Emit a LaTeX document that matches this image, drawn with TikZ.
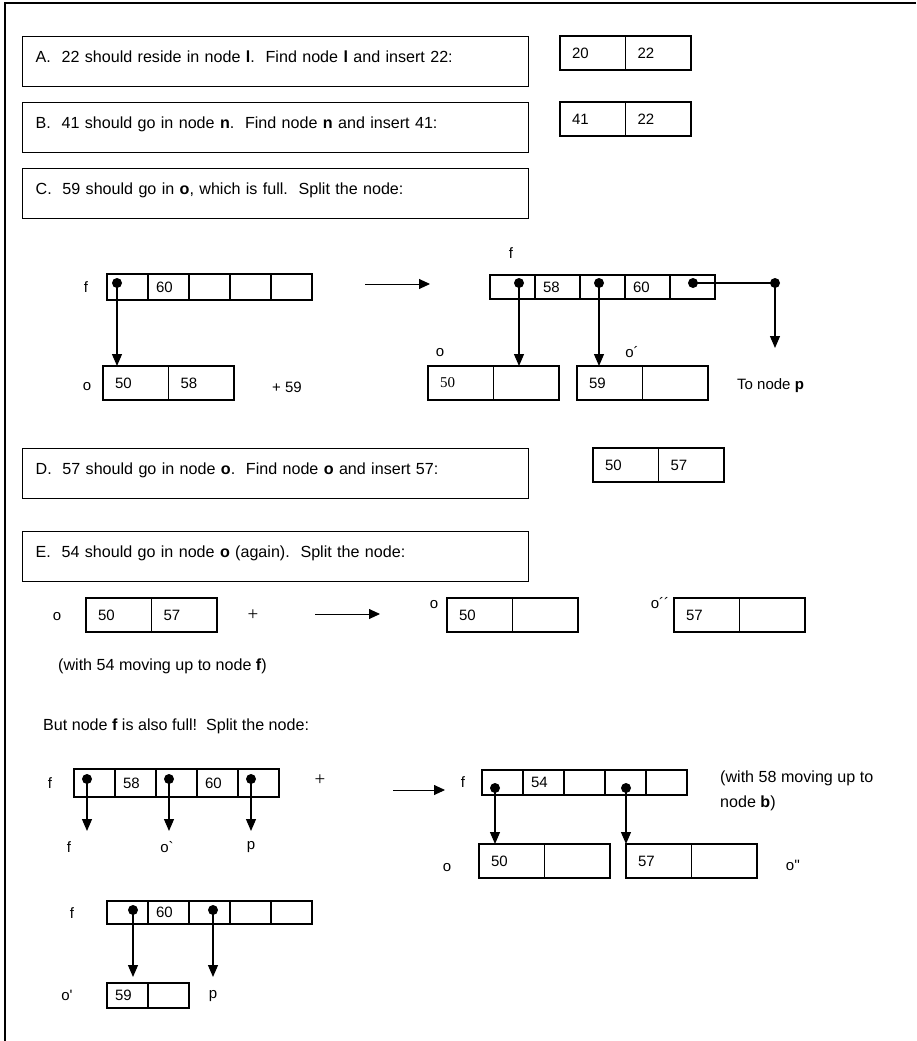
\documentclass[tikz,border=0pt]{standalone}
\usepackage{fontspec}
\setmainfont{Liberation Sans}
\newfontfamily\serifnum{Liberation Serif}
\usepackage{tikz}
\usetikzlibrary{arrows.meta,positioning}
\newcommand\bigtxt{\fontsize{16.1}{25}\selectfont}
\newcommand\celltxt{\fontsize{15}{18}\selectfont}
\frenchspacing

\begin{document}
\begin{tikzpicture}[x=1pt, y=-1pt,
    stepbox/.style={draw, line width=1.3pt, anchor=north west, minimum height=50pt,
      text width=480pt, inner xsep=13pt, align=left, font=\bigtxt, text depth=9pt},
    cell/.style={draw, line width=1.3pt, outer sep=0pt, align=left, font=\celltxt,
      inner xsep=12pt, text width=41.5pt, minimum height=34pt},
    small/.style={inner xsep=8pt, text width=25pt, minimum height=#1},
    small/.default=26pt,
    lbl/.style={font=\celltxt, inner sep=0pt},
    plus/.style={font=\serifnum\fontsize{19}{20}\selectfont, inner sep=0pt},
    note/.style={font=\bigtxt, inner sep=0pt, anchor=west, align=left},
    dot/.style={circle, fill, inner sep=0pt, minimum size=10pt},
    ptr/.style={-{Triangle[length=12pt, width=10pt]}, line width=1.2pt},
    goes/.style={-{Triangle[length=11pt, width=10pt]}, line width=0.9pt},
  ]
    \useasboundingbox (0,0) rectangle (916,1041);
    \draw[line width=2.5pt] (5,1041) -- (5,3) -- (916,3);

    % step A and B
    \node[stepbox] (stepA) at (22,36) {A.\ \ 22 should reside in node \textbf{l}.\ \ Find node \textbf{l} and insert 22:};
    \node[cell, anchor=north west] (a1) at (560,36) {20};
    \node[cell, right=0pt of a1] (a2) {22};
    \node[stepbox] (stepB) at (22,102) {B.\ \ 41 should go in node \textbf{n}.\ \ Find node \textbf{n} and insert 41:};
    \node[cell, anchor=north west] (b1) at (560,102) {41};
    \node[cell, right=0pt of b1] (b2) {22};

    % step C, before the split
    \node[stepbox] (stepC) at (22,168) {C.\ \ 59 should go in \textbf{o}, which is full.\ \ Split the node:};
    \node[lbl] (fC) at (86,287) {f};
    \node[cell, small, anchor=north west] (c1) at (107,274) {};
    \node[cell, small, right=0pt of c1] (c2) {60};
    \node[cell, small, right=0pt of c2] (c3) {};
    \node[cell, small, right=0pt of c3] (c4) {};
    \node[cell, small, right=0pt of c4] (c5) {};
    \node[dot] (dC) at (117,283) {};
    \node[lbl] (oC) at (87,387) {o};
    \node[cell, anchor=north west] (co1) at (103,366) {50};
    \node[cell, right=0pt of co1] (co2) {58};
    \node[lbl, anchor=west] (plusC) at (272,387) {+ 59};
    \draw[ptr] (dC.center) -- (dC.center |- co1.north);

    \coordinate (gC1) at (365,284);
    \coordinate (gC2) at (430,284);
    \draw[goes] (gC1) -- (gC2);

    % step C, after the split
    \node[lbl] (fR) at (511,253) {f};
    \node[cell, small=24pt, text width=29pt, anchor=north west] (r1) at (490,275) {};
    \node[cell, small=24pt, text width=29pt, right=0pt of r1] (r2) {58};
    \node[cell, small=24pt, text width=29pt, right=0pt of r2] (r3) {};
    \node[cell, small=24pt, text width=29pt, right=0pt of r3] (r4) {60};
    \node[cell, small=24pt, text width=29pt, right=0pt of r4] (r5) {};
    \node[dot] (dR1) at (519,283) {};
    \node[dot] (dR2) at (599,283) {};
    \node[dot] (dR3) at (693,283) {};
    \node[dot] (dR4) at (775,283) {};
    \node[lbl] (oR) at (440,353) {o};
    \node[cell, anchor=north west] (ro1) at (428,366) {\serifnum 50};
    \node[cell, right=0pt of ro1] (ro2) {};
    \node[lbl] (oR2) at (632,352) {o´};
    \node[cell, anchor=north west] (rq1) at (577,366) {59};
    \node[cell, right=0pt of rq1] (rq2) {};
    \coordinate (toP) at (775,348);
    \node[lbl, anchor=west] (toPtxt) at (737,386) {To node \textbf{p}};
    \draw[ptr] (dR1.center) -- (dR1.center |- ro1.north);
    \draw[ptr] (dR2.center) -- (dR2.center |- rq1.north);
    \draw[line width=1.2pt] (dR3.center) -- (dR4.center);
    \draw[ptr] (dR4.center) -- (toP);

    % step D
    \node[stepbox] (stepD) at (22,448) {D.\ \ 57 should go in node \textbf{o}.\ \ Find node \textbf{o} and insert 57:};
    \node[cell, anchor=north west] (d1) at (593,448) {50};
    \node[cell, right=0pt of d1] (d2) {57};

    % step E
    \node[stepbox] (stepE) at (22,531) {E.\ \ 54 should go in node \textbf{o} (again).\ \ Split the node:};
    \node[lbl] (oE) at (57,617) {o};
    \node[cell, anchor=north west] (e1) at (86,598) {50};
    \node[cell, right=0pt of e1] (e2) {57};
    \node[plus] (plusE) at (253,615) {+};
    \coordinate (gE1) at (315,614);
    \coordinate (gE2) at (380,614);
    \draw[goes] (gE1) -- (gE2);
    \node[lbl] (oE2) at (434,605) {o};
    \node[cell, anchor=north west] (e3) at (447,598) {50};
    \node[cell, right=0pt of e3] (e4) {};
    \node[lbl] (oE3) at (660,603) {o´´};
    \node[cell, anchor=north west] (e5) at (674,598) {57};
    \node[cell, right=0pt of e5] (e6) {};
    \node[note] (up54) at (58,666) {(with 54 moving up to node \textbf{f})};

    % node f is full too
    \node[note] (fullF) at (43,726) {But node \textbf{f} is also full!\ \ Split the node:};
    \node[lbl] (fS) at (50,783) {f};
    \node[cell, small=28pt, anchor=north west] (s1) at (74,769) {};
    \node[cell, small=28pt, right=0pt of s1] (s2) {58};
    \node[cell, small=28pt, right=0pt of s2] (s3) {};
    \node[cell, small=28pt, right=0pt of s3] (s4) {60};
    \node[cell, small=28pt, right=0pt of s4] (s5) {};
    \node[dot] (dS1) at (87,779) {};
    \node[dot] (dS2) at (169,779) {};
    \node[dot] (dS3) at (251,779) {};
    \coordinate (tS1) at (87,831);
    \coordinate (tS2) at (169,831);
    \coordinate (tS3) at (251,831);
    \draw[ptr] (dS1.center) -- (tS1);
    \draw[ptr] (dS2.center) -- (tS2);
    \draw[ptr] (dS3.center) -- (tS3);
    \node[lbl] (lS1) at (69,847) {f};
    \node[lbl] (lS2) at (167,847) {o\textasciigrave};
    \node[lbl] (lS3) at (251,847) {p};
    \node[plus] (plusS) at (320,780) {+};
    \coordinate (gS1) at (393,790);
    \coordinate (gS2) at (445,790);
    \draw[goes] (gS1) -- (gS2);

    \node[lbl] (fT) at (463,782) {f};
    \node[cell, small=25pt, anchor=north west] (t1) at (482,770) {};
    \node[cell, small=25pt, right=0pt of t1] (t2) {54};
    \node[cell, small=25pt, right=0pt of t2] (t3) {};
    \node[cell, small=25pt, right=0pt of t3] (t4) {};
    \node[cell, small=25pt, right=0pt of t4] (t5) {};
    \node[dot] (dT1) at (495,788) {};
    \node[dot] (dT2) at (626,788) {};
    \node[note, anchor=north west] (up58) at (720,771) {(with 58 moving up to\\node \textbf{b})};
    \node[lbl] (oT) at (447,868) {o};
    \node[cell, anchor=north west] (t6) at (479,844) {50};
    \node[cell, right=0pt of t6] (t7) {};
    \node[cell, anchor=north west] (t8) at (626,844) {57};
    \node[cell, right=0pt of t8] (t9) {};
    \node[lbl] (oT2) at (793,865) {o\textquotesingle\textquotesingle};
    \draw[ptr] (dT1.center) -- (dT1.center |- t6.north);
    \draw[ptr] (dT2.center) -- (dT2.center |- t8.north);

    \node[lbl] (fU) at (72,913) {f};
    \node[cell, small=23pt, anchor=north west] (u1) at (107,901) {};
    \node[cell, small=23pt, right=0pt of u1] (u2) {60};
    \node[cell, small=23pt, right=0pt of u2] (u3) {};
    \node[cell, small=23pt, right=0pt of u3] (u4) {};
    \node[cell, small=23pt, right=0pt of u4] (u5) {};
    \node[dot] (dU1) at (133,910) {};
    \node[dot] (dU2) at (213,910) {};
    \coordinate (tU1) at (133,977);
    \coordinate (tU2) at (213,977);
    \draw[ptr] (dU1.center) -- (tU1);
    \draw[ptr] (dU2.center) -- (tU2);
    \node[lbl] (oU) at (67,995) {o\textquotesingle};
    \node[cell, small=25pt, anchor=north west] (u6) at (107,983) {59};
    \node[cell, small=25pt, right=0pt of u6] (u7) {};
    \node[lbl] (pU) at (213,996) {p};
  \end{tikzpicture}
\end{document}
